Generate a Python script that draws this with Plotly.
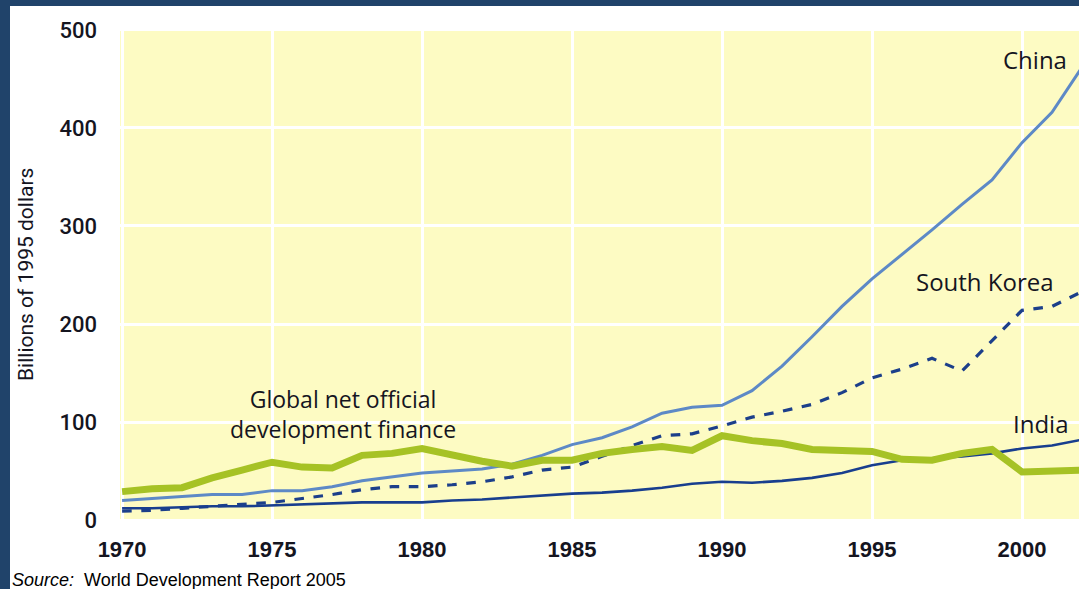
import plotly.graph_objects as go

years = list(range(1970, 2003))

china = [20, 22, 24, 26, 26, 30, 30, 34, 40, 44, 48, 50, 52, 57, 66, 77, 84, 95, 109, 115, 117,
         132, 157, 187, 218, 246, 271, 296, 322, 347, 385, 416, 462]
south_korea = [9, 10, 12, 14, 16, 18, 22, 26, 31, 34, 34, 36, 39, 44, 51, 54, 65, 76, 86, 88, 96,
               105, 111, 118, 130, 145, 154, 165, 152, 183, 214, 218, 233]
india = [12, 12, 13, 14, 14, 15, 16, 17, 18, 18, 18, 20, 21, 23, 25, 27, 28, 30, 33, 37, 39,
         38, 40, 43, 48, 56, 61, 63, 65, 68, 73, 76, 82]
odf = [29, 32, 33, 43, 51, 59, 54, 53, 66, 68, 73, 66, 60, 55, 61, 61, 68, 72, 75, 71, 86,
       81, 78, 72, 71, 70, 62, 61, 68, 72, 49, 50, 51]

y_ticks = [0, 100, 200, 300, 400, 500]
x_ticks = [1970, 1975, 1980, 1985, 1990, 1995, 2000]

NAVY = '#20436a'
TXT = '#15151f'
LBL = dict(family="Open Sans, sans-serif", size=24, color=TXT)

fig = go.Figure()
fig.add_trace(go.Scatter(x=years, y=china, mode='lines', line=dict(color='#5d89c6', width=3)))
fig.add_trace(go.Scatter(x=years, y=south_korea, mode='lines',
                         line=dict(color='#1c3f8a', width=3.2, dash='dash')))
fig.add_trace(go.Scatter(x=years, y=india, mode='lines', line=dict(color='#183e8e', width=2.6)))
fig.add_trace(go.Scatter(x=years, y=odf, mode='lines', line=dict(color='#a6c225', width=7)))

# labels next to the lines
fig.add_annotation(x=2000.43, y=470, text="China", showarrow=False, font=LBL)
fig.add_annotation(x=1998.77, y=243, text="South Korea", showarrow=False, font=LBL)
fig.add_annotation(x=2000.63, y=98, text="India", showarrow=False, font=LBL)
fig.add_annotation(x=1977.37, y=108, text="Global net official<br>development finance",
                   showarrow=False, font=dict(LBL, size=23))

# y-axis title and source line
fig.add_annotation(xref='paper', yref='paper', x=-0.098, y=0.5, textangle=-90,
                   xanchor='center', yanchor='middle',
                   text="Billions of 1995 dollars", showarrow=False,
                   font=dict(family="Roboto, sans-serif", size=21, color=TXT))
fig.add_annotation(xref='paper', yref='paper', x=-0.1147, y=-0.117, xanchor='left',
                   yanchor='middle',
                   text="<i>Source:</i>  World Development Report 2005", showarrow=False,
                   font=dict(family="Liberation Sans, Arial, sans-serif", size=18, color='black'))

# dark frame on the top and left edge
fig.add_shape(type='rect', xref='paper', yref='paper', x0=-0.13, x1=-0.1147, y0=-0.2, y1=1.1,
              fillcolor=NAVY, line=dict(width=0))
fig.add_shape(type='rect', xref='paper', yref='paper', x0=-0.13, x1=1.01, y0=1.0445, y1=1.1,
              fillcolor=NAVY, line=dict(width=0))

fig.update_layout(
    width=1079, height=589,
    showlegend=False,
    paper_bgcolor='white',
    plot_bgcolor='#fdfbc3',
    margin=dict(l=120, r=0, t=28, b=67),
    xaxis=dict(range=[1969.93, 2001.9], tickvals=x_ticks, showgrid=True, gridcolor='white',
               gridwidth=3, zeroline=False, ticks='', ticklabelstandoff=12,
               tickfont=dict(family="Liberation Sans, Arial, sans-serif", size=22, color=TXT,
                             weight='bold')),
    yaxis=dict(range=[-2, 502], tickvals=y_ticks, showgrid=True, gridcolor='white',
               gridwidth=3, zeroline=False, ticks='', ticklabelstandoff=22,
               tickfont=dict(family="Roboto, sans-serif", size=22, color=TXT, weight=500)),
)

fig.write_html("out.html", config={'displayModeBar': False},
               post_script="document.body.style.margin='0';")
